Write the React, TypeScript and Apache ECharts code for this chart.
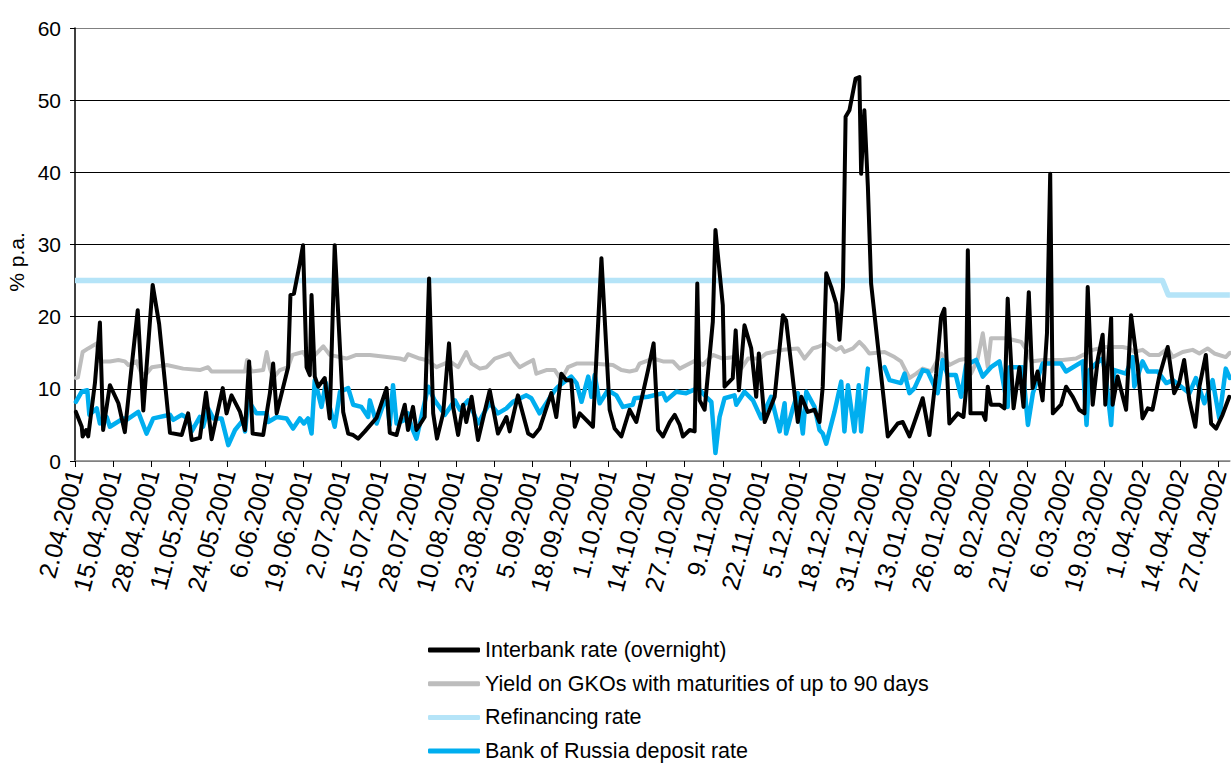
import React, { useEffect, useRef } from "react";
import * as echarts from "echarts";

const START_UTC = Date.UTC(2001, 3, 2);
const X_MAX = 394;
const LABEL_STEP = 13;

const seriesNames = [
  "Interbank rate (overnight)",
  "Yield on GKOs with maturities of up to 90 days",
  "Refinancing rate",
  "Bank of Russia deposit rate",
];

// day offsets from 2.04.2001 and values (% p.a.)
const ibDays = [0.3,2.3,2.6,3.8,4.5,6.8,8.5,9.6,11.9,14.8,17.0,19.3,21.4,23.3,26.5,28.7,32.4,36.4,38.6,39.8,42.6,44.7,46.6,50.4,51.7,53.4,56.3,58.0,59.4,60.6,64.2,66.5,67.6,68.8,72.7,73.5,74.7,76.7,77.8,79.0,80.1,80.7,81.8,83.0,85.2,86.9,88.6,91.5,93.2,94.9,96.6,98.9,102.9,106.3,107.4,109.7,112.5,113.6,115.3,116.5,119.3,120.8,122.2,123.5,125.6,127.6,129.0,130.7,132.4,133.5,135.3,137.5,141.5,144.3,147.2,148.3,151.1,154.6,156.3,158.5,162.5,164.2,165.9,167.6,169.3,170.5,172.2,176.7,179.6,182.4,184.1,186.4,189.2,191.5,193.2,195.5,197.4,198.9,200.6,202.9,204.6,206.3,207.4,209.7,211.4,212.3,213.1,214.8,217.6,218.5,221.0,221.6,224.4,225.4,226.5,228.4,230.7,232.4,233.3,235.3,238.7,241.5,242.6,246.6,247.8,250.0,252.3,254.0,255.1,256.3,258.0,259.7,260.8,262.0,262.9,264.2,266.3,267.6,268.2,269.3,270.5,271.6,277.3,280.7,282.4,284.7,287.0,289.2,291.5,293.8,295.5,296.6,298.3,301.2,303.1,304.0,304.6,305.5,309.7,310.6,311.4,312.5,315.4,317.1,318.2,318.8,320.2,322.2,323.6,325.4,326.7,328.4,330.1,331.6,332.7,333.6,336.4,338.1,340.4,342.6,344.4,345.5,347.2,348.9,350.6,351.5,353.5,354.0,355.7,356.9,358.6,360.3,362.5,364.2,366.0,367.6,369.9,372.8,375.0,376.7,378.4,380.2,382.2,383.6,385.8,387.6,389.3,391.5,393.8];
const ibVals = [6.8,4.75,3.4,4.3,3.4,10.8,19.2,4.3,10.5,8,4,13,20.9,7,24.4,19,3.9,3.6,6.6,2.9,3.2,9.5,3,10.1,6.6,9.1,6.8,4.3,13.8,3.8,3.6,9.4,13.5,6.6,13,23,23.2,27.4,29.9,13,11.9,23,11.7,10.3,11.5,5.9,29.9,6.8,3.8,3.6,3.1,4.1,6,10.1,3.9,3.6,7.8,4.3,7.5,4.3,6.1,25.3,6.6,3.1,6.6,16.3,7.5,3.6,7.8,5.4,8.9,2.9,9.8,3.8,6.1,4.1,9.1,3.8,3.4,4.5,9.4,6.1,12.1,11.2,11.2,4.75,6.6,4.75,28.1,7.1,4.5,3.4,7.1,5.4,8.4,12.6,16.3,4.3,3.4,5.4,6.4,5.0,3.4,4.3,4.1,24.6,8.4,7.1,19.3,32,21.6,10.3,11.5,18.1,9.8,18.8,15.6,8.9,14.9,5.4,8.9,20.2,19.5,5.4,8.9,6.8,7.1,5.4,10.3,26,24.1,21.8,16.8,24.1,47.7,48.6,53,53.2,39.8,48.6,38,24.6,3.4,5.2,5.4,3.4,6.1,8.7,3.6,12.1,20,21.1,5.2,6.6,6.1,9.8,29.2,6.6,6.6,5.7,10.3,7.8,7.8,7.3,22.5,17.7,7.3,13,7.5,23.4,10.1,12.4,8.4,17.7,39.8,6.6,7.8,10.3,8.9,7.1,6.6,24.1,7.8,14,17.5,7.8,19.8,7.8,11.7,9.8,7.1,20.2,13.3,5.9,7.3,7.1,11.7,15.8,9.4,10.8,14,8.4,4.75,10.3,14.7,5.2,4.5,6.4,8.9];

const gkoDays = [0.3,1.0,2.6,4.5,7.4,8.5,11.9,14.8,17.0,18.2,21.0,22.7,24.4,26.2,31.3,36.9,42.6,45.4,46.6,54.0,58.0,58.7,60.2,64.2,65.4,66.5,67.6,69.9,72.7,74.2,77.8,79.5,81.2,84.7,86.9,92.6,96.0,100.6,110.8,112.5,113.6,117.6,119.9,123.3,127.9,130.7,133.5,135.3,138.1,140.4,143.2,148.3,150.0,151.7,154.0,156.3,157.4,160.8,163.7,165.9,168.2,171.1,176.2,183.5,186.4,189.2,191.5,192.6,197.2,200.6,204.0,206.3,212.0,214.2,217.6,221.0,225.0,227.3,229.6,233.6,235.8,241.5,246.6,248.9,251.7,253.4,256.3,259.7,261.4,262.5,265.4,267.6,269.3,271.0,276.2,279.6,281.8,284.7,287.0,289.2,292.1,295.5,298.3,301.7,304.6,305.7,307.9,309.7,311.4,312.5,317.7,322.8,325.1,326.2,330.1,336.9,341.5,344.9,347.2,351.7,357.4,359.7,361.4,364.2,366.5,369.9,372.8,374.5,377.9,381.3,383.6,386.4,388.7,392.6,394.0];
const gkoVals = [11.5,11.6,15.1,15.6,16.3,13.8,13.8,14,13.8,13.3,13.8,12.1,12.1,13,13.3,12.8,12.6,13,12.4,12.4,12.4,14,12.4,12.6,15.1,12.8,11.5,12.6,13,14.7,15.1,14,14.4,15.9,14.7,14.2,14.7,14.7,14.2,14,14.8,14.2,14,13,13.8,13,15.1,13.5,12.8,13,14.2,14.9,13.8,13,13.5,14,12.1,12.6,12.6,11.2,13,13.5,13.5,13.3,12.6,12.4,12.6,13.5,14.2,13.8,13.8,12.8,14,13.3,14.7,14.2,14.4,12.8,14.2,14.2,14.9,15.4,15.6,14.2,15.6,15.8,16.3,15.4,15.8,15.1,15.6,16.5,15.8,14.9,15.1,14.4,13.8,11.5,12.1,12.8,12.4,14.9,13.3,14,14.2,12.1,14,17.7,13,17,17,16.5,15.1,13.8,14,14,14.2,14.9,15.4,15.8,15.8,15.6,15.1,15.4,14.7,14.7,15.6,14.4,15.1,15.4,14.9,15.6,14.9,14.4,15];

const refDays = [0, 371, 373, 394];
const refVals = [25, 25, 23, 23];

const depDays = [0.3,2.3,4.2,4.9,7.4,8.5,10.8,11.9,16.5,17.6,21.6,24.4,26.7,32.4,33.5,36.4,38.6,39.8,42.6,43.7,45.4,47.2,50.0,52.3,54.6,57.4,58.0,59.1,61.9,65.4,65.9,68.8,72.2,74.4,76.7,78.1,79.5,80.7,81.8,84.1,85.6,86.9,88.6,90.4,93.2,94.9,97.7,100.0,100.6,102.9,106.3,107.4,108.5,109.7,112.5,113.6,114.8,116.5,120.5,122.7,126.2,129.6,131.3,134.1,135.3,137.5,140.4,141.5,144.3,147.2,149.4,154.0,155.7,158.5,163.7,164.8,169.3,171.1,172.8,175.1,176.2,177.3,179.0,181.8,184.7,186.9,190.3,190.9,195.5,200.6,201.7,205.1,208.5,212.5,215.3,217.1,218.5,219.9,221.6,225.0,225.6,228.4,231.3,234.1,237.5,240.4,242.1,242.6,244.9,246.6,248.3,249.5,252.3,254.0,255.1,256.3,259.1,261.4,262.5,263.7,265.9,267.4,268.2,270.5,273.0,276.2,277.9,281.8,283.0,284.7,286.4,289.2,290.9,294.3,296.0,297.7,300.5,302.3,304.0,307.4,309.7,312.5,315.4,318.2,318.8,323.3,325.1,326.8,330.1,336.4,338.1,343.8,345.1,346.1,348.3,350.6,351.7,353.5,354.6,358.6,360.8,361.4,364.2,366.0,369.4,372.3,374.6,380.2,382.4,385.3,388.1,390.4,392.6,394.0];
const depVals = [8.2,9.6,9.8,6.4,7.3,5.2,6.1,4.75,5.9,5.7,6.8,3.8,5.9,6.4,5.7,6.4,5.9,4.1,6.1,4.75,7.3,5.9,5.9,2.2,4.3,5.7,4.1,8.4,6.6,6.6,5.4,6.1,5.9,4.5,5.9,5.2,5.9,3.8,11.2,7.5,10.8,7.5,4.75,9.6,10.1,7.8,7.5,6.1,8.4,5.2,9.1,5.0,10.5,5.2,5.7,6.6,4.75,3.1,10.3,8.4,6.4,8.4,7.1,8.4,7.3,5.2,7.3,8.0,6.6,7.3,8.2,9.1,8.7,6.6,9.8,10.3,11.7,10.8,8.2,11.7,8.9,11.9,8.0,9.8,9.1,7.5,7.8,8.7,8.9,9.4,8.4,9.6,9.4,10.1,8.9,8.2,1.1,6.1,8.7,9.1,7.8,9.6,8.4,5.9,8.9,4.1,8.0,3.8,7.3,9.4,3.8,9.6,7.5,4.3,3.8,2.4,6.8,11,4.1,10.5,4.1,10.5,4.1,12.8,null,13,11.2,10.8,12.1,9.4,10.1,12.6,12.4,9.4,14,11.9,11.9,8.9,13.3,14,11.7,13,13.8,7.5,13,13,5,9.4,13.5,13.5,12.4,13.8,5,12.6,13.5,14.2,11.7,5,12.6,12.1,14.4,10.3,13.8,12.4,12.4,10.8,11.2,9.4,11.5,8,11.2,5.9,12.8,11.5];

const pairs = (days: number[], vals: (number | null)[]) =>
  days.map((d, i) => [d, vals[i] === null ? "-" : vals[i]]);

const formatDay = (v: number) => {
  if (Math.abs(v % LABEL_STEP) > 1e-6) return "";
  const d = new Date(START_UTC + v * 86400000);
  return `${d.getUTCDate()}.${String(d.getUTCMonth() + 1).padStart(2, "0")}.${d.getUTCFullYear()}`;
};

const FONT = "Liberation Sans, Arial, sans-serif";

export default function App() {
  const ref = useRef<HTMLDivElement>(null);
  useEffect(() => {
    if (!ref.current) return;
    const chart = echarts.init(ref.current, null, { renderer: "svg" });
    const lineBase = { type: "line", symbol: "none", showSymbol: false, smooth: false };
    chart.setOption({
      animation: false,
      backgroundColor: "#ffffff",
      textStyle: { fontFamily: FONT },
      grid: { left: 75, right: 0, top: 28, bottom: 303, containLabel: false },
      xAxis: {
        type: "value",
        min: 0,
        max: X_MAX,
        interval: LABEL_STEP,
        axisLine: { show: true, lineStyle: { color: "#808080", width: 1.5 } },
        axisTick: { show: true, length: 6, lineStyle: { color: "#000", width: 1 } },
        splitLine: { show: false },
        axisLabel: {
          formatter: formatDay,
          rotate: 75,
          margin: 9,
          fontSize: 25,
          color: "#000",
          fontFamily: FONT,
          showMaxLabel: false,
        },
      },
      yAxis: {
        type: "value",
        min: 0,
        max: 60,
        interval: 10,
        axisLine: { show: true, lineStyle: { color: "#000", width: 1.5 } },
        axisTick: { show: true, length: 5, lineStyle: { color: "#000" } },
        axisLabel: { fontSize: 21, color: "#000", margin: 14, fontFamily: FONT },
        splitLine: {
          show: true,
          lineStyle: { color: ["#808080", "#000", "#000", "#000", "#000", "#000", "#808080"], width: 1 },
        },
      },
      graphic: [
        {
          type: "text",
          x: 16,
          y: 262,
          rotation: Math.PI / 2,
          style: {
            text: "% p.a.",
            fontSize: 21,
            fill: "#000",
            fontFamily: FONT,
            textAlign: "center",
            textVerticalAlign: "middle",
          },
        },
      ],
      legend: {
        orient: "vertical",
        left: 428,
        top: 639,
        padding: 0,
        height: 125,
        icon: "roundRect",
        itemWidth: 52,
        itemHeight: 5,
        itemGap: 11.7,
        data: seriesNames,
        textStyle: { fontSize: 21.5, color: "#000", fontFamily: FONT, lineHeight: 22 },
      },
      series: [
        {
          ...lineBase,
          name: seriesNames[2],
          data: pairs(refDays, refVals),
          lineStyle: { color: "#b5e4f8", width: 5.5, join: "round" },
          itemStyle: { color: "#b5e4f8" },
        },
        {
          ...lineBase,
          name: seriesNames[1],
          data: pairs(gkoDays, gkoVals),
          lineStyle: { color: "#bdbdbd", width: 4, join: "round", cap: "round" },
          itemStyle: { color: "#bdbdbd" },
        },
        {
          ...lineBase,
          name: seriesNames[3],
          data: pairs(depDays, depVals),
          connectNulls: false,
          lineStyle: { color: "#00aeef", width: 4.5, join: "round", cap: "round" },
          itemStyle: { color: "#00aeef" },
        },
        {
          ...lineBase,
          name: seriesNames[0],
          data: pairs(ibDays, ibVals),
          lineStyle: { color: "#000000", width: 4, join: "round", cap: "round" },
          itemStyle: { color: "#000000" },
        },
      ],
    });
    return () => chart.dispose();
  }, []);
  return (
    <div
      ref={ref}
      style={{ position: "absolute", left: 0, top: 0, width: 1231, height: 764 }}
    />
  );
}
